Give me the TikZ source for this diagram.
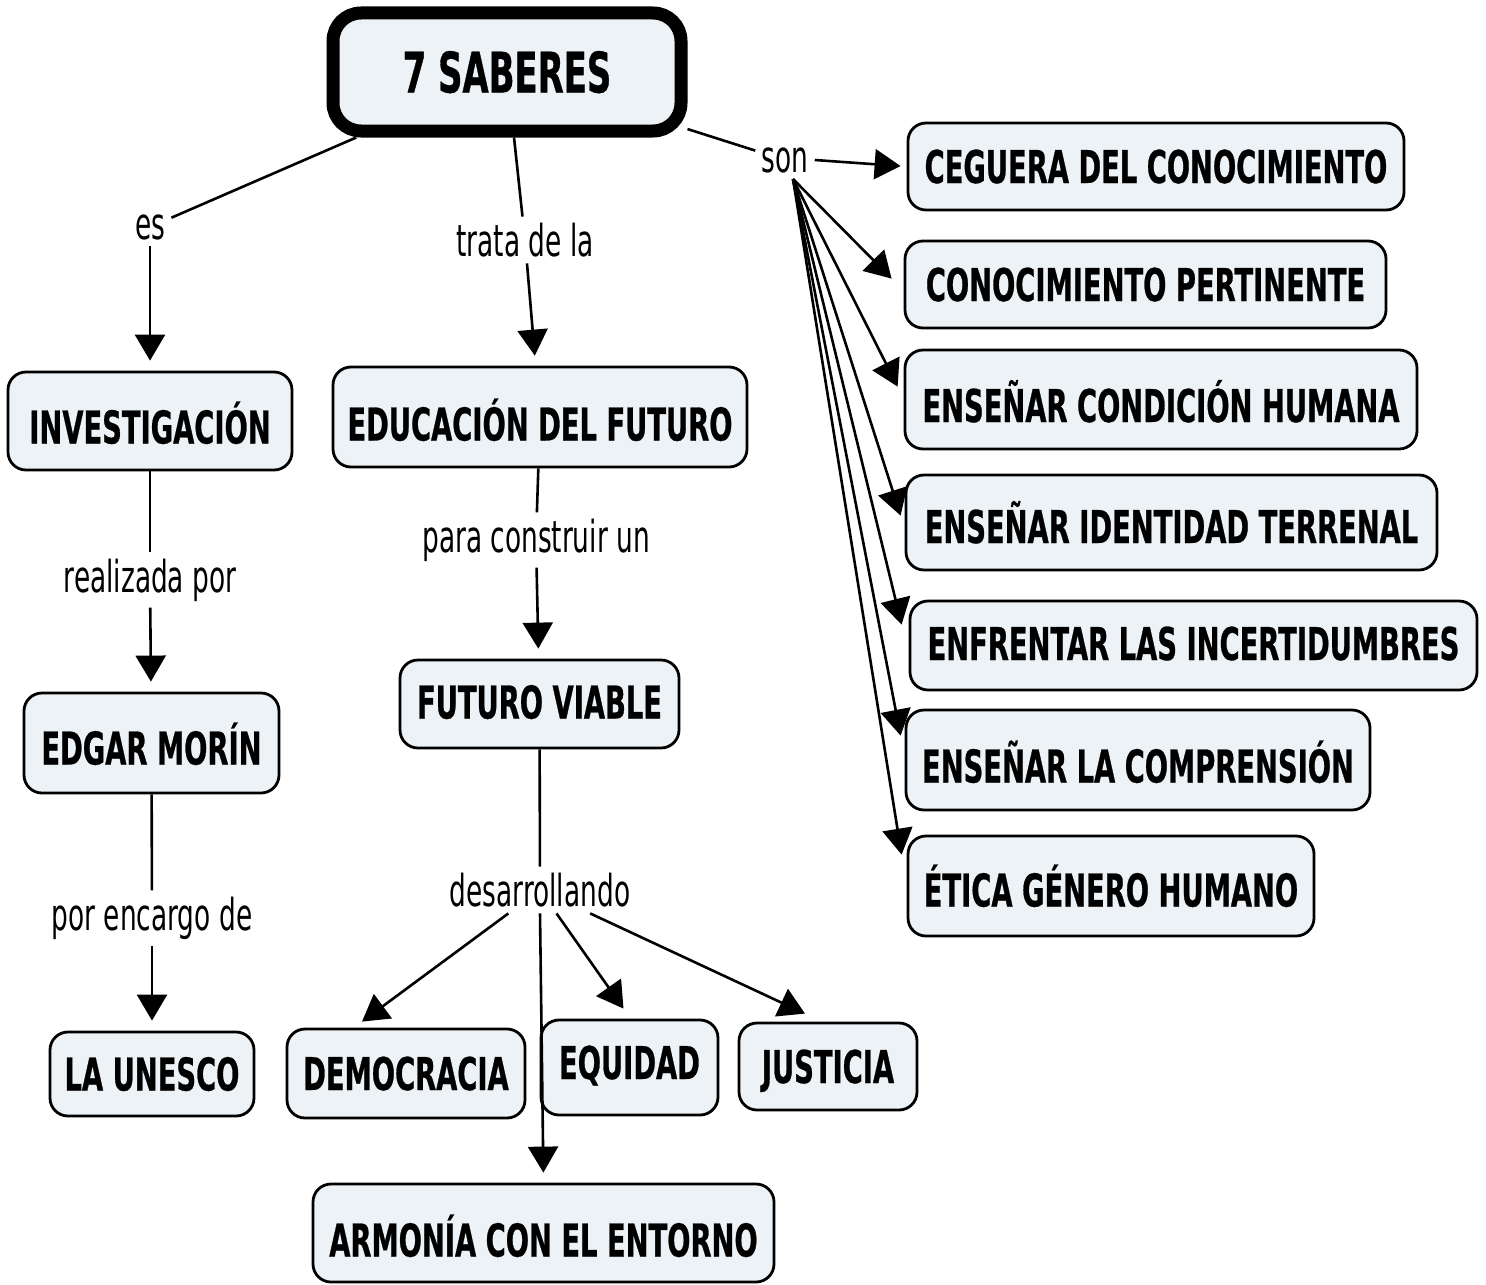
\documentclass[tikz,border=0pt]{standalone}
\usepackage{fontspec}
\setmainfont{DejaVu Sans}
\newfontfamily\boxfont{DejaVu Sans}[FakeStretch=0.605,FakeBold=0.6]
\newfontfamily\labfont{DejaVu Sans}[FakeStretch=0.6]
\usetikzlibrary{arrows.meta,calc}
\definecolor{boxfill}{RGB}{236,242,246}
\tikzset{
  box/.style={draw=black, line width=1.4pt, rounded corners=9pt, fill=boxfill,
    inner sep=0pt, font=\boxfont\bfseries\fontsize{22.6}{24}\selectfont,
    text height=16.5pt, text depth=0pt, align=center},
  lab/.style={inner sep=3pt, font=\labfont\fontsize{22}{24}\selectfont},
  con/.style={line width=1.3pt},
  arr/.style={con, -{Triangle[length=13pt,width=15pt]}},
}
\begin{document}
\begin{tikzpicture}[x=0.5pt,y=-0.5pt]
\fill[white] (0,0) rectangle (1486,1284);
\useasboundingbox (0,0) rectangle (1486,1284);

% main
\node[box, line width=6.5pt, rounded corners=14pt, minimum width=174pt, minimum height=59pt,
  font=\boxfont\bfseries\fontsize{28}{30}\selectfont, text height=20.5pt] (main) at (507,72) {7 SABERES};

% right column
\node[box, minimum width=248pt, minimum height=43.5pt] (ceg) at (1156,166.5) {CEGUERA DEL CONOCIMIENTO};
\node[box, minimum width=240.5pt, minimum height=43.5pt] (cp) at (1145.5,284.5) {CONOCIMIENTO PERTINENTE};
\node[box, minimum width=256pt, minimum height=49.5pt, text height=22.5pt] (ecs) at (1161,399.5) {ENSEÑAR CONDICIÓN HUMANA};
\node[box, minimum width=265.5pt, minimum height=47.5pt, text height=20.5pt] (eit) at (1171.5,522.5) {ENSEÑAR IDENTIDAD TERRENAL};
\node[box, minimum width=283.5pt, minimum height=44.5pt, text depth=2pt] (eli) at (1193.5,645.5) {ENFRENTAR LAS INCERTIDUMBRES};
\node[box, minimum width=232pt, minimum height=50pt, text height=22.5pt] (elc) at (1138,760) {ENSEÑAR LA COMPRENSIÓN};
\node[box, minimum width=203pt, minimum height=50pt, text height=20.5pt] (egh) at (1111,886) {ÉTICA GÉNERO HUMANO};

% left column
\node[box, minimum width=142pt, minimum height=49pt, text height=22.5pt] (inv) at (150,421) {INVESTIGACIÓN};
\node[box, minimum width=127.5pt, minimum height=50pt, text height=21.5pt] (edg) at (151.5,743) {EDGAR MORÍN};
\node[box, minimum width=102pt, minimum height=42pt] (une) at (152,1074) {LA UNESCO};

% middle column
\node[box, minimum width=207pt, minimum height=50pt, text height=23.5pt] (edu) at (540,417) {EDUCACIÓN DEL FUTURO};
\node[box, minimum width=139.5pt, minimum height=44pt, text depth=2pt] (fv) at (539.5,704) {FUTURO VIABLE};
\node[box, minimum width=119pt, minimum height=44.5pt] (dem) at (406,1073.5) {DEMOCRACIA};
\node[box, minimum width=88.5pt, minimum height=47.5pt, text depth=5pt] (equ) at (629.5,1067.5) {EQUIDAD};
\node[box, minimum width=89pt, minimum height=43.5pt] (jus) at (828,1066.5) {JUSTICIA};
\node[box, minimum width=230.5pt, minimum height=49pt, text height=23.5pt] (arm) at (543.5,1233) {ARMONÍA CON EL ENTORNO};

% labels
\node[lab] (es) at (150,227) {es};
\node[lab] (trata) at (525,240) {trata de la};
\node[lab] (son) at (785,160) {son};
\node[lab] (real) at (150,580) {realizada por};
\node[lab] (pcu) at (536,540) {para construir un};
\node[lab] (pen) at (152,918) {por encargo de};
\node[lab] (des) at (540,890) {desarrollando};

% connectors
\draw[con] (main) -- (es);
\draw[arr, shorten >=5pt] (es) -- (inv);
\draw[con] (main) -- (trata);
\draw[arr, shorten >=5pt] (trata) -- (edu);
\draw[con] (main) -- (son);
\draw[arr, shorten >=3pt] (son.east) -- (ceg.west);

\coordinate (sf) at ($(son.south)+(8,0)$);
\draw[arr] (sf) -- ($(cp.north west)+(-12,39)$);
\draw[arr] (sf) -- ($(ecs.north west)+(-6,38)$);
\draw[arr] (sf) -- ($(eit.north west)+(-4,42)$);
\draw[arr] (sf) -- ($(eli.north west)+(-7,25)$);
\draw[arr] (sf) -- ($(elc.north west)+(-4,27)$);
\draw[arr] (sf) -- ($(egh.north west)+(-5,20)$);

\draw[con] (inv) -- (real);
\draw[arr, shorten >=5pt] (real) -- (edg);
\draw[con] (edg) -- (pen);
\draw[arr, shorten >=5pt] (pen) -- (une);

\draw[con] (edu) -- (pcu);
\draw[arr, shorten >=5pt] (pcu) -- (fv);
\draw[con] (fv) -- (des);
\draw[arr] (des) -- ($(dem.north)+(-44,-6)$);
\draw[arr] (des) -- ($(equ.north)+(-6,-10)$);
\draw[arr] (des) -- ($(jus.north)+(-23,-8)$);
\draw[arr, shorten >=5pt] (des.south) -- (arm.north);
\end{tikzpicture}
\end{document}
